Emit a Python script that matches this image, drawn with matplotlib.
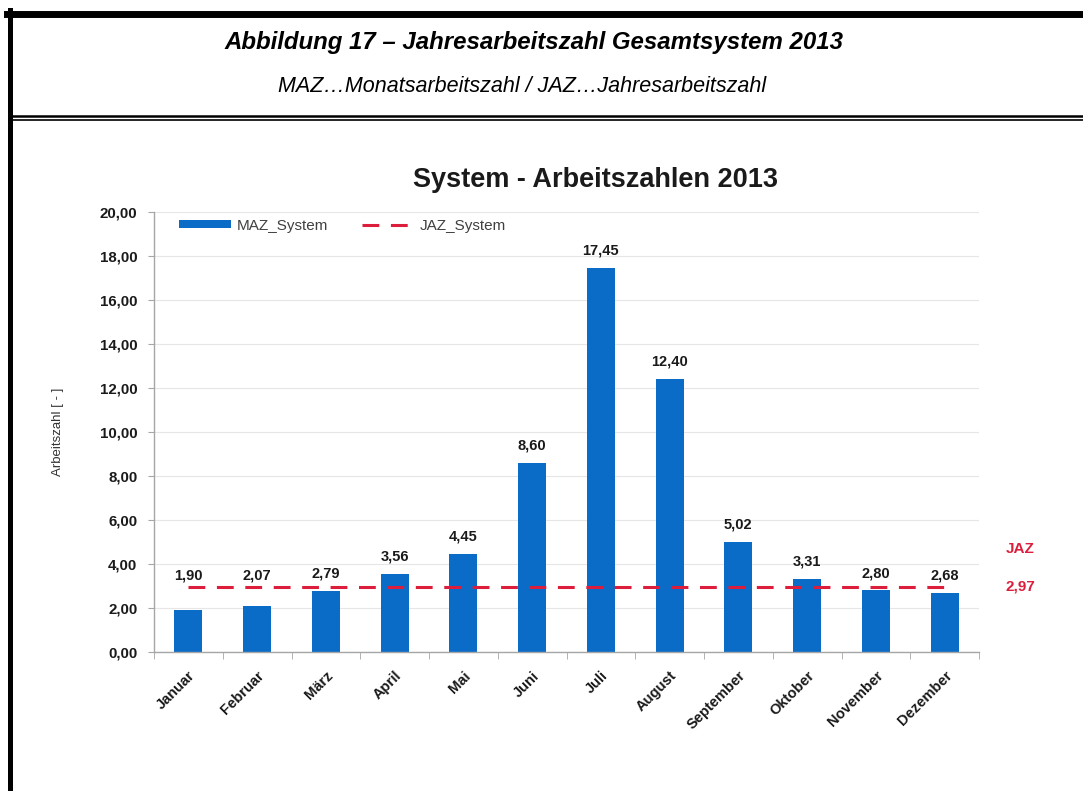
import matplotlib.pyplot as plt
import numpy as np
from matplotlib.lines import Line2D
from matplotlib.ticker import FuncFormatter, FixedLocator

plt.rcParams['font.family'] = ['Liberation Sans', 'DejaVu Sans']

# Monatsarbeitszahlen (MAZ) und Jahresarbeitszahl (JAZ) 2013
monate = ['Januar', 'Februar', 'März', 'April', 'Mai', 'Juni', 'Juli',
          'August', 'September', 'Oktober', 'November', 'Dezember']
maz = [1.90, 2.07, 2.79, 3.56, 4.45, 8.60, 17.45, 12.40, 5.02, 3.31, 2.80, 2.68]
jaz = 2.97

BLAU = '#0A6CC6'
ROT = '#DC1E3C'
W, H = 1083, 791


def fx(px):
    return px / W


def fy(py):
    return 1 - py / H


def komma(v, pos=None):
    return f'{v:.2f}'.replace('.', ',')


fig = plt.figure(figsize=(W / 100, H / 100), dpi=100)

# Rahmen und Kopfzeile
fig.add_artist(Line2D([fx(7), fx(W)], [fy(13.5), fy(13.5)], color='black', lw=5.0))
fig.add_artist(Line2D([fx(9.5), fx(9.5)], [fy(10), fy(H)], color='black', lw=3.6))
fig.add_artist(Line2D([fx(12), fx(W)], [fy(116), fy(116)], color='black', lw=1.8))
fig.add_artist(Line2D([fx(12), fx(W)], [fy(119.5), fy(119.5)], color='black', lw=1.2))

fig.text(fx(534), fy(42), 'Abbildung 17 – Jahresarbeitszahl Gesamtsystem 2013',
         ha='center', va='center', fontsize=17.3, fontweight='bold', style='italic')
fig.text(fx(522), fy(87), 'MAZ…Monatsarbeitszahl / JAZ…Jahresarbeitszahl',
         ha='center', va='center', fontsize=15.5, style='italic')

# Diagramm
left, right, top, bottom = 154, 979, 212, 652
ax = fig.add_axes([fx(left), fy(bottom), fx(right - left), (bottom - top) / H])

x = np.arange(len(monate))
balken = ax.bar(x, maz, width=0.41, color=BLAU, label='MAZ_System', zorder=2)
linie, = ax.plot(x, np.full(len(x), jaz), color=ROT, lw=2.2,
                 ls=(0, (5.5, 3.8)), label='JAZ_System', zorder=3)

ax.set_xlim(-0.5, len(monate) - 0.5)
ax.set_ylim(0, 20)
ax.yaxis.set_major_locator(FixedLocator(np.arange(0, 21, 2)))
ax.yaxis.set_major_formatter(FuncFormatter(komma))
ax.yaxis.grid(True, color='#E6E6E6', lw=0.8)
ax.set_axisbelow(True)

for s in ['top', 'right']:
    ax.spines[s].set_visible(False)
for s in ['left', 'bottom']:
    ax.spines[s].set_color('#A6A6A6')
    ax.spines[s].set_linewidth(1.0)

ax.tick_params(axis='y', direction='out', length=4, color='#A6A6A6', pad=8,
               labelsize=10.8, labelcolor='#1A1A1A')
for t in ax.get_yticklabels():
    t.set_fontweight('bold')

ax.set_xticks(x)
ax.set_xticklabels(monate, rotation=45, ha='right', rotation_mode='anchor',
                   fontsize=10.5, fontweight='bold', color='#1A1A1A')
ax.tick_params(axis='x', which='major', length=0, pad=12)
ax.set_xticks(np.arange(-0.5, len(monate), 1), minor=True)
ax.tick_params(axis='x', which='minor', direction='out', length=5, color='#A6A6A6')

ax.set_ylabel('Arbeitszahl [ - ]', fontsize=9.5, color='#333333', labelpad=26)

# Werte über den Balken
for xi, v in zip(x, maz):
    ax.annotate(komma(v), (xi, max(v, 2.7)), xytext=(0, 12.5), textcoords='offset points',
                ha='center', va='center', fontsize=10.5, fontweight='bold', color='#1A1A1A')

# JAZ-Beschriftung rechts neben der Linie
trans = ax.get_yaxis_transform()
ax.text(1.032, jaz, komma(jaz), transform=trans, ha='left', va='center',
        fontsize=11, fontweight='bold', color=ROT, clip_on=False)
ax.annotate('JAZ', (1.032, jaz), xycoords=trans, xytext=(0, 27), textcoords='offset points',
            ha='left', va='center', fontsize=11, fontweight='bold', color=ROT)

ax.set_title('System - Arbeitszahlen 2013', fontsize=19.5, fontweight='bold', pad=18,
             color='#1A1A1A', x=0.535)

ax.legend(handles=[balken, linie], loc='upper left', bbox_to_anchor=(0.03, 0.985),
          ncol=2, frameon=False, fontsize=11, handlelength=3.4, handleheight=0.42,
          handletextpad=0.4, columnspacing=2.2, borderpad=0, borderaxespad=0,
          labelcolor='#404040')

fig.savefig('out.png', dpi=100)
